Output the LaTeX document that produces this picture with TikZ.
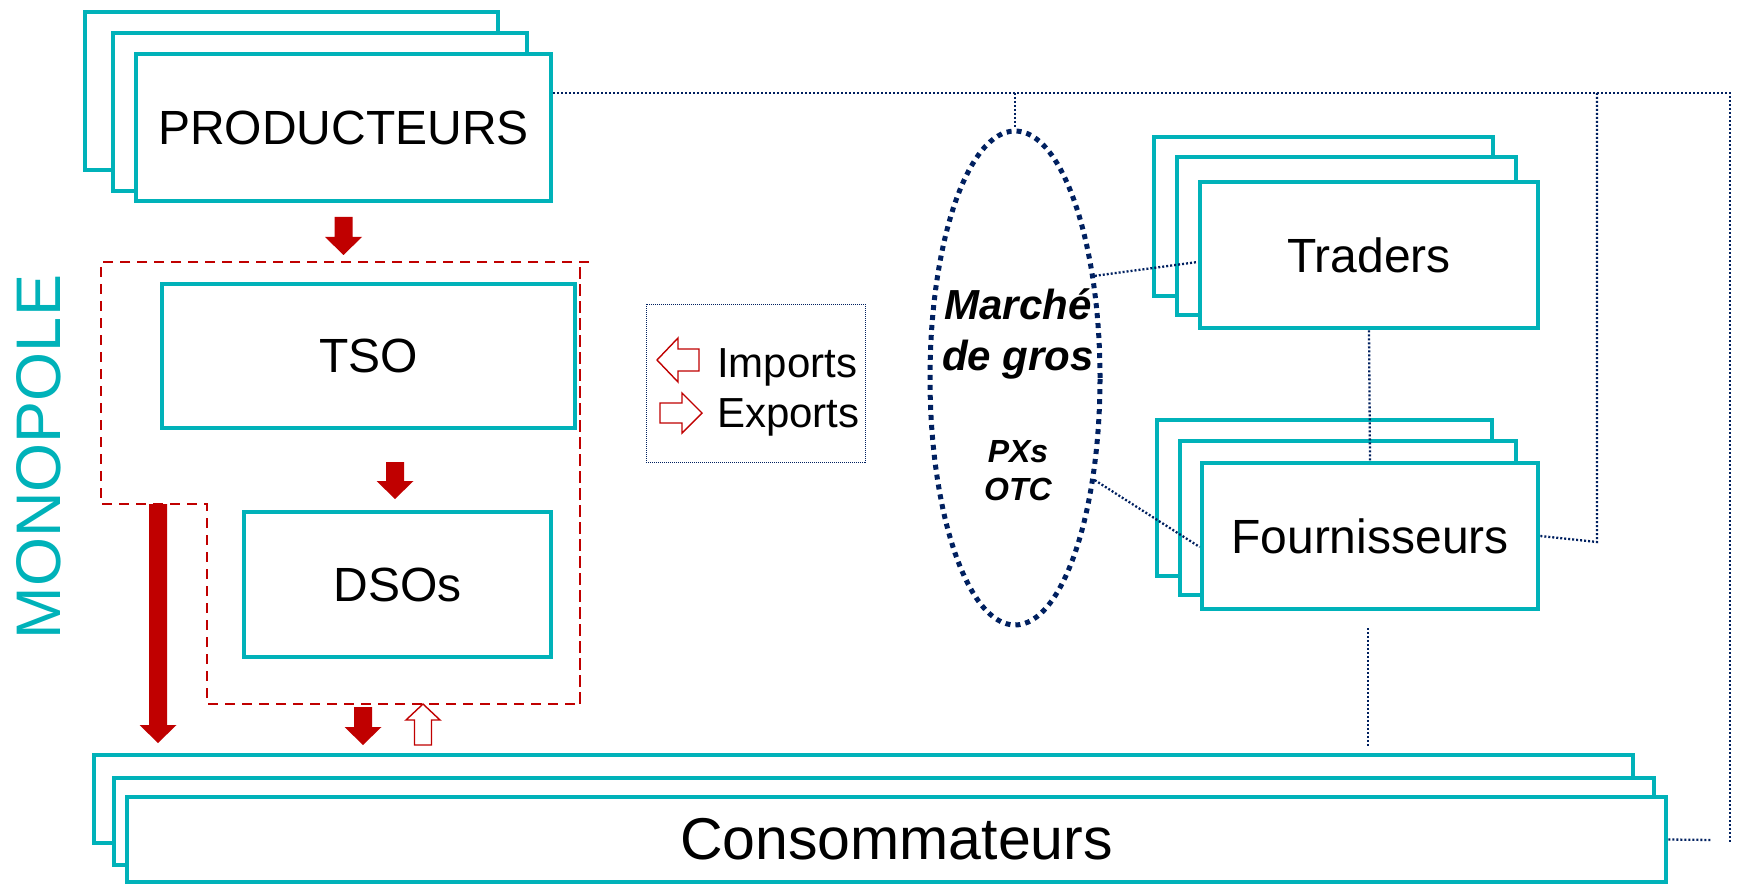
\documentclass[tikz,border=0pt]{standalone}
\usepackage{fontspec}
\setmainfont{Liberation Sans}
\usetikzlibrary{shapes.geometric}
\definecolor{teal2}{RGB}{0,178,185}
\definecolor{red2}{RGB}{192,0,0}
\definecolor{navy2}{RGB}{0,32,96}
\newcommand{\fs}[1]{\fontsize{#1}{#1}\selectfont}
\newcommand{\downblock}[4]{\fill[red2] ({#1-9},#2) -- ({#1+9},#2) -- ({#1+9},#3) -- ({#1+18.5},#3) -- (#1,#4) -- ({#1-18.5},#3) -- ({#1-9},#3) -- cycle;}
\begin{document}
\begin{tikzpicture}[x=1pt,y=-1pt,
  stack/.style={draw=teal2, line width=4.7pt, fill=white},
  box/.style={stack, rectangle, inner sep=0pt, font=\fs{48}},
  dotline/.style={draw=navy2, line width=2.3pt, dash pattern=on 2pt off 2pt},
  hollow/.style={draw=red2, line width=1.4pt, fill=white, line join=miter},
  region/.style={draw=red2, line width=2pt, dash pattern=on 10pt off 7pt}]
\useasboundingbox (0,0) rectangle (1742,885);

% ---------- red dashed monopoly region
\draw[region] (589,262) -- (101,262) -- (101,504) -- (207,504) -- (207,704) -- (580,704) -- (580,262);

% ---------- PRODUCTEURS
\draw[stack] (85,12) rectangle (498,170);
\draw[stack] (113,33) rectangle (527,191);
\node[box, minimum width=415pt, minimum height=147pt] (prod) at (343.5,127.5) {PRODUCTEURS};

% ---------- TSO / DSOs
\node[box, minimum width=413pt, minimum height=144pt] (tso) at (368.5,356) {TSO};
\node[box, minimum width=307pt, minimum height=145pt] (dso) at (397.5,584.5) {DSOs};
\draw[region] (580,704) -- (580,262);

% ---------- Consommateurs
\draw[stack] (94,755) rectangle (1633,843);
\draw[stack] (114,778) rectangle (1654,865);
\node[box, minimum width=1539pt, minimum height=85pt, font=\fs{59}] (cons) at (896.5,839.5) {Consommateurs};

% ---------- Traders
\draw[stack] (1154,137) rectangle (1493,296);
\draw[stack] (1177,157) rectangle (1516,315);
\node[box, minimum width=338pt, minimum height=146pt] (tr) at (1369,255) {Traders};

% ---------- Fournisseurs
\draw[stack] (1157,420) rectangle (1492,576);
\draw[stack] (1180,441) rectangle (1516,595);
\node[box, minimum width=336pt, minimum height=146pt] (four) at (1370,536) {Fournisseurs};

% ---------- Marché de gros
\node[draw=navy2, ellipse, line width=5pt, dash pattern=on 5pt off 5pt,
      minimum width=170pt, minimum height=494pt, inner sep=0pt] (ell) at (1015,378) {};
\node[font=\fs{42}\bfseries\itshape, anchor=base, inner sep=0pt] (m1) at (1018,319) {Marché};
\node[font=\fs{42}\bfseries\itshape, anchor=base, inner sep=0pt] (m2) at (1018,370) {de gros};
\node[font=\fs{32}\bfseries\itshape, anchor=base, inner sep=0pt] (px) at (1018,462) {PXs};
\node[font=\fs{32}\bfseries\itshape, anchor=base, inner sep=0pt] (otc) at (1018,500) {OTC};

% ---------- MONOPOLE
\node[rotate=90, text=teal2, font=\fs{63}, inner sep=0pt] (mono) at (39,457) {MONOPOLE};

% ---------- legend
\node[draw=navy2, line width=1pt, dash pattern=on 1pt off 1pt, minimum width=219pt,
      minimum height=158pt, inner sep=0pt] (legend) at (755.5,383) {};
\draw[hollow] (657,360) -- (678,338) -- (678,349) -- (699,349) -- (699,371) -- (678,371) -- (678,382) -- cycle;
\draw[hollow] (702,413) -- (682,393) -- (682,403) -- (660,403) -- (660,423) -- (682,423) -- (682,433) -- cycle;
\node[anchor=base west, font=\fs{42}, inner sep=0pt] (imp) at (717,377) {Imports};
\node[anchor=base west, font=\fs{42}, inner sep=0pt] (exp) at (717,427) {Exports};

% ---------- red block arrows
\downblock{343.5}{217}{237}{255}
\downblock{395}{462}{481}{499}
\downblock{158}{504}{725}{743}
\downblock{363}{707}{727}{745}
\draw[hollow] (414.5,745) -- (431.5,745) -- (431.5,720) -- (440,720) -- (423,704) -- (406,720) -- (414.5,720) -- cycle;

% ---------- dotted connectors
\coordinate (ytop) at (0,93);
\coordinate (c1) at (1015,93);
\coordinate (c2) at (1597,93);
\coordinate (c3) at (1730,93);
\coordinate (c2b) at (1597,542);
\coordinate (c3b) at (1730,842);
\coordinate (cend) at (1712,840);
\coordinate (f1) at (1368,628);
\coordinate (f2) at (1368,747);
\draw[dotline] (prod.east |- ytop) -- (c3) -- (c3b);
\draw[dotline] (c1) -- (ell.north);
\draw[dotline] (c2) -- (c2b) -- (four.east);
\draw[dotline] (cons.east) -- (cend);
\draw[dotline] (ell.52) -- ([yshift=-7pt]tr.west);
\draw[dotline] (ell.-52) -- ([yshift=-11pt]four.west);
\draw[dotline] (tr.south) -- (four.north);
\draw[dotline] (f1) -- (f2);
\end{tikzpicture}
\end{document}
